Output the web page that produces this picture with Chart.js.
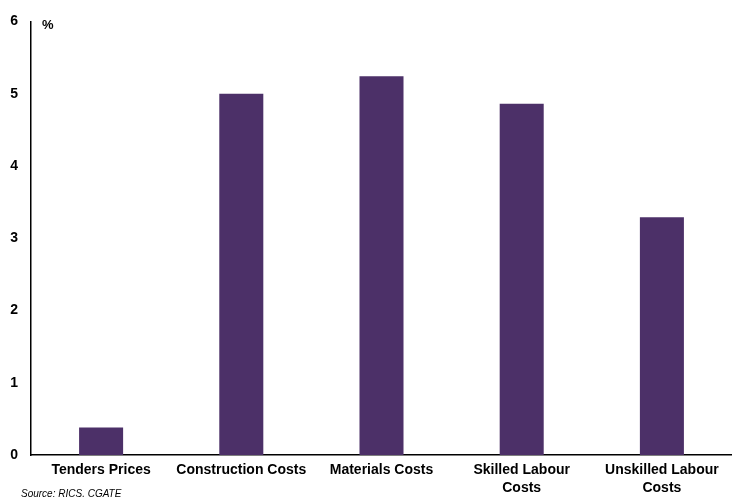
<!DOCTYPE html>
<html>
<head>
<meta charset="utf-8">
<script src="https://cdn.jsdelivr.net/npm/chart.js@4.4.1/dist/chart.umd.min.js"></script>
<style>
html,body{margin:0;padding:0;background:#fff;}
#wrap{width:732px;height:501px;position:relative;}
</style>
</head>
<body>
<div id="wrap"><canvas id="c" width="732" height="501"></canvas></div>
<script>
const categories = ["Tenders Prices", "Construction Costs", "Materials Costs", ["Skilled Labour", "Costs"], ["Unskilled Labour", "Costs"]];
const values = [0.38, 5.0, 5.24, 4.86, 3.29];
const yTicks = [0, 1, 2, 3, 4, 5, 6];
const unitLabel = "%";
const sourceText = "Source: RICS. CGATE";

const FONT = "'Liberation Sans', Arial, sans-serif";

const extras = {
  id: 'extras',
  afterDraw(chart) {
    const ctx = chart.ctx;
    const area = chart.chartArea;
    ctx.save();
    ctx.fillStyle = '#000';
    ctx.font = "bold 13px " + FONT;
    ctx.textBaseline = 'middle';
    ctx.textAlign = 'left';
    ctx.fillText(unitLabel, area.left + 11, area.top + 4);
    ctx.font = "italic 10px " + FONT;
    ctx.fillText(sourceText, 21, 494);
    ctx.restore();
  }
};

new Chart(document.getElementById('c'), {
  type: 'bar',
  data: {
    labels: categories,
    datasets: [{
      data: values,
      backgroundColor: '#4c3068',
      borderWidth: 0,
      categoryPercentage: 1,
      barPercentage: 0.314
    }]
  },
  options: {
    responsive: false,
    animation: false,
    layout: { padding: { top: 17, right: 0, bottom: 0, left: 0 } },
    plugins: { legend: { display: false }, tooltip: { enabled: false } },
    scales: {
      x: {
        grid: { display: false, drawTicks: false },
        border: { display: true, color: '#000', width: 1.5 },
        ticks: {
          color: '#000',
          font: { family: FONT, size: 14, weight: 'bold', lineHeight: 1.3 },
          padding: 6,
          maxRotation: 0,
          autoSkip: false
        },
        afterFit(s) { s.height = 46; }
      },
      y: {
        min: 0,
        max: 6,
        afterBuildTicks(s) { s.ticks = yTicks.map(v => ({ value: v })); },
        grid: { display: false, drawTicks: false },
        border: { display: true, color: '#000', width: 1.5 },
        ticks: {
          color: '#000',
          font: { family: FONT, size: 14, weight: 'bold' },
          padding: 13,
          stepSize: 1
        },
        afterFit(s) { s.width = 31; }
      }
    }
  },
  plugins: [extras]
});
</script>
</body>
</html>
